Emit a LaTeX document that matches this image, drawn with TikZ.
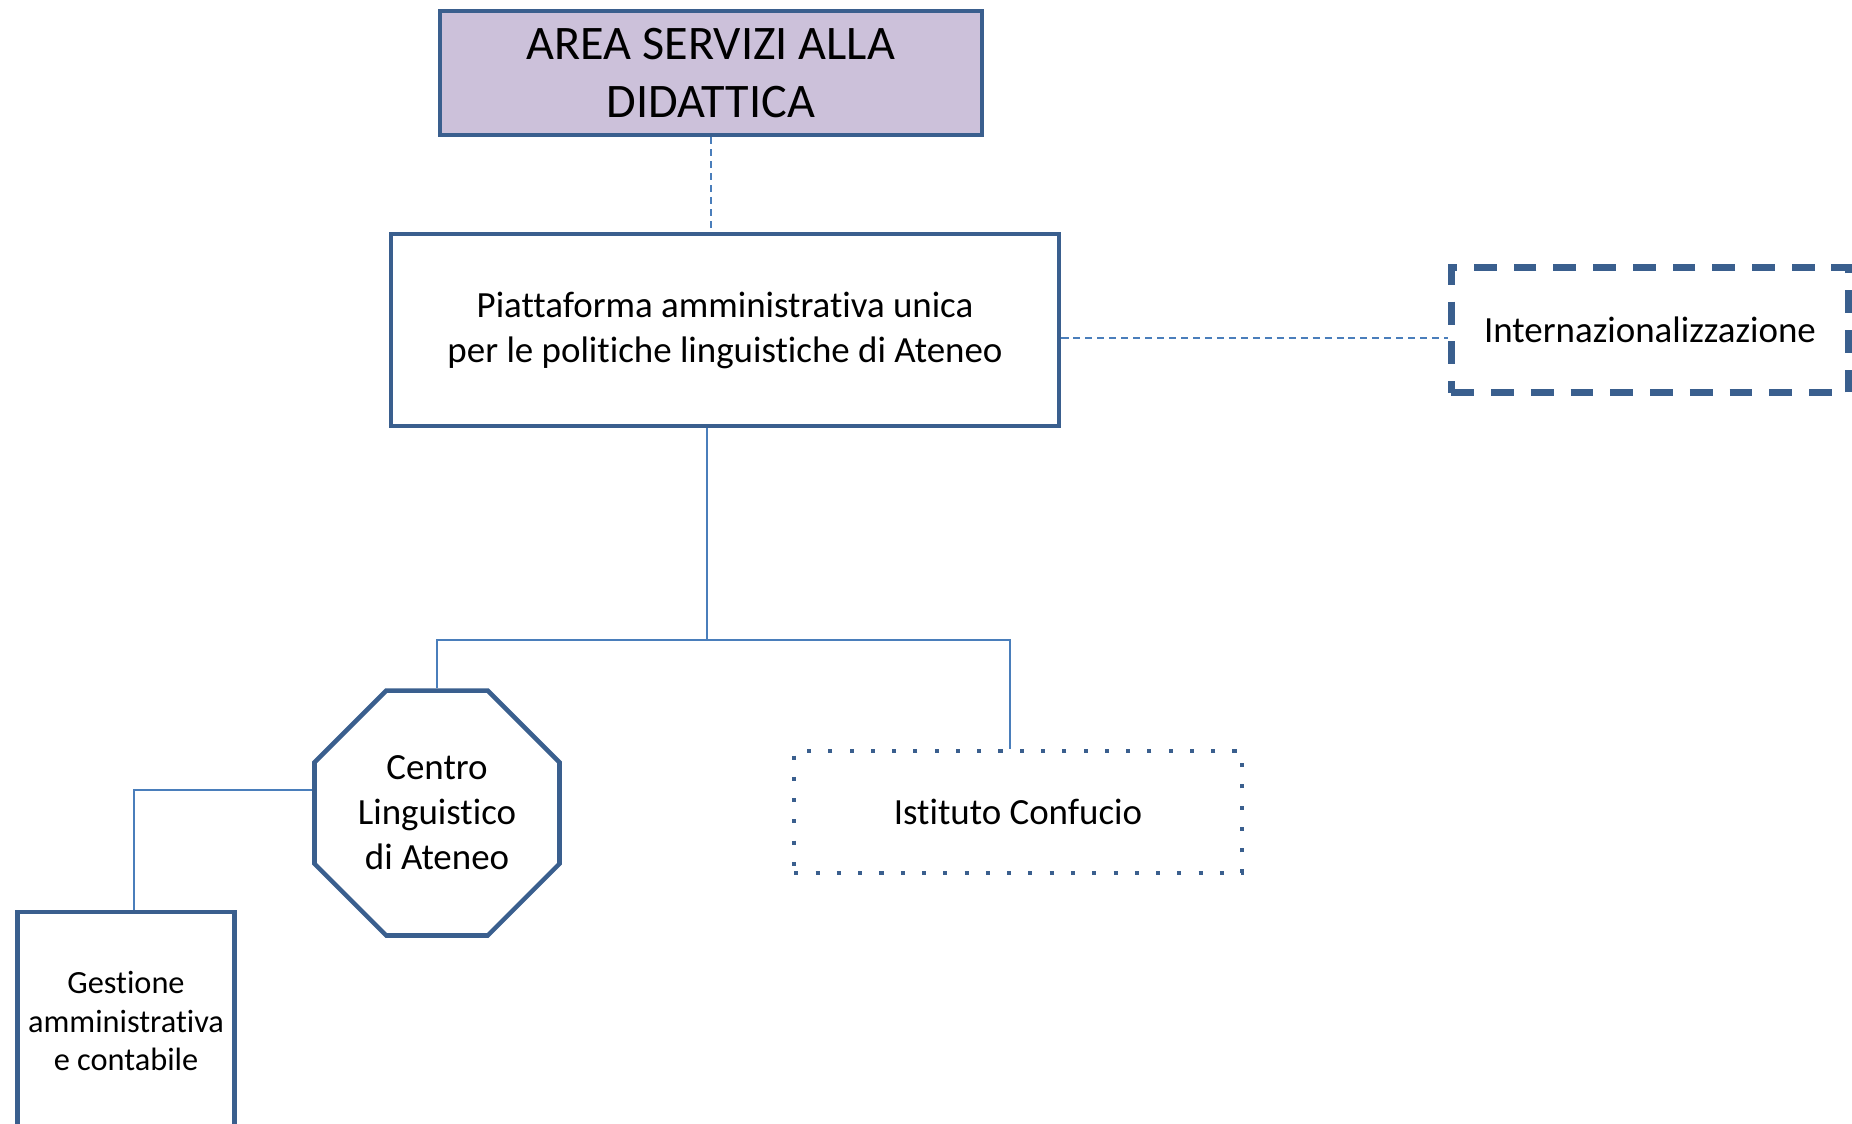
\documentclass[tikz,border=0pt]{standalone}
\usepackage{fontspec}
\setmainfont[Ligatures=NoCommon]{Carlito}
\usetikzlibrary{shapes.geometric, positioning}

\definecolor{bordo}{HTML}{3A5F8E}
\definecolor{linea}{HTML}{4A7EBB}
\definecolor{lilla}{HTML}{CCC1DA}

\begin{document}
\begin{tikzpicture}[x=0.01cm, y=-0.01cm,
        box/.style={draw=bordo, line width=1.3pt, rectangle, align=center, inner sep=0pt, font=\fontsize{10.5}{12.8}\selectfont},
        conn/.style={draw=linea, line width=0.45pt},
        dashconn/.style={draw=linea, line width=0.45pt, dash pattern=on 2pt off 1.4pt}]

        \useasboundingbox (0,0) rectangle (1852,1123);

        %Livello alto
        \node[box, fill=lilla, minimum width=5.42cm, minimum height=1.24cm, font=\fontsize{13.7}{16.4}\selectfont](area) at (711,73){AREA SERVIZI ALLA\\DIDATTICA};
        \node[box, minimum width=6.68cm, minimum height=1.92cm](piatt) at (725,330){Piattaforma amministrativa unica\\per le politiche linguistiche di Ateneo};
        \node[box, line width=2pt, dash pattern=on 6.5pt off 4.8pt, minimum width=3.97cm, minimum height=1.25cm](inter) at (1650,330){Internazionalizzazione};

        %Livello basso
        \node[box, regular polygon, regular polygon sides=8, minimum size=2.65cm](cla) at (437,813){Centro\\Linguistico\\di Ateneo};
        \node[box, line width=1.15pt, dash pattern=on 1.15pt off 4.9pt, minimum width=4.47cm, minimum height=1.22cm](conf) at (1018,812){Istituto Confucio};
        \node[box, minimum width=2.17cm, minimum height=2.18cm, font=\fontsize{9.2}{11}\selectfont](gest) at (126,1021){Gestione\\amministrativa\\e contabile};

        \coordinate (split) at (707,640);

        \draw[dashconn] (area.south) -- (area.south |- piatt.north);
        \draw[dashconn] ([yshift=-0.08cm]piatt.east) -- ([yshift=-0.08cm]piatt.east -| inter.west);
        \draw[conn] (piatt.south -| split) -- (split);
        \draw[conn] (cla.north) |- (split);
        \draw[conn] (split) -| ([xshift=-0.08cm]conf.north);
        \draw[conn] ([yshift=0.23cm]cla.west) -| ([xshift=0.08cm]gest.north);

    \end{tikzpicture}
\end{document}
